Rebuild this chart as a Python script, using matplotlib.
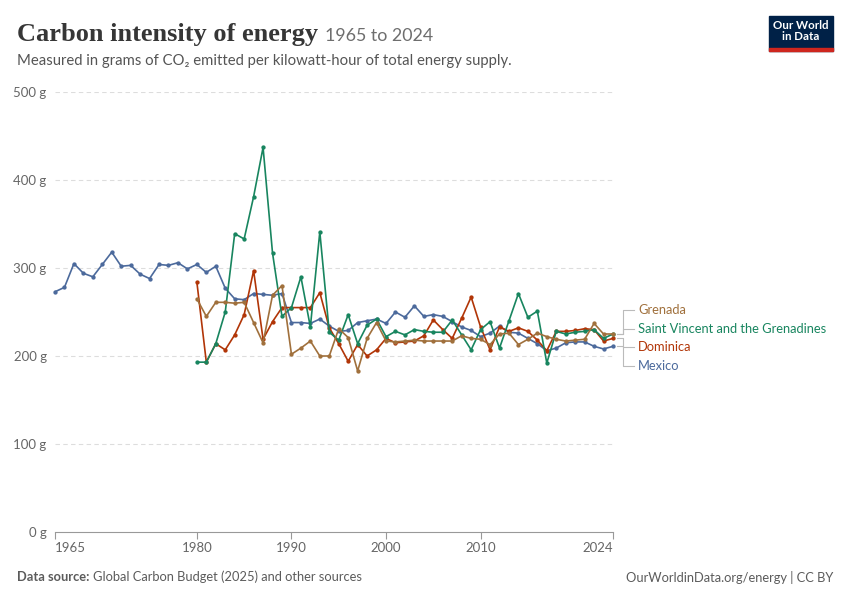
import matplotlib
matplotlib.use("Agg")
import matplotlib.pyplot as plt
from matplotlib.patches import Rectangle
import numpy as np

# datos (g CO2 / kWh)
years_mexico = list(range(1965, 2025))
mexico = [273, 278, 305, 294, 290, 304, 318, 302, 303, 293,
          288, 304, 303, 306, 299, 304, 295, 302, 277, 265,
          264, 271, 270, 269, 271, 238, 238, 237, 242, 234,
          228, 229, 238, 240, 242, 237, 250, 244, 257, 245,
          247, 245, 239, 233, 229, 222, 226, 234, 227, 226,
          220, 214, 206, 209, 215, 216, 216, 211, 208, 211]

years_islands = list(range(1980, 2025))
dominica = [284, 193, 214, 207, 224, 247, 297, 219, 239, 255,
            255, 255, 255, 272, 232, 214, 194, 213, 200, 207,
            220, 215, 216, 217, 223, 241, 230, 220, 243, 267,
            233, 207, 233, 228, 232, 228, 218, 206, 228, 228,
            229, 231, 230, 217, 220]
st_vincent = [193, 193, 214, 250, 339, 333, 381, 437, 317, 245,
              255, 290, 233, 341, 227, 218, 247, 214, 235, 242,
              222, 228, 224, 230, 228, 227, 227, 241, 224, 207,
              230, 239, 209, 240, 271, 244, 251, 192, 228, 225,
              227, 228, 230, 220, 225]
grenada = [265, 245, 261, 261, 260, 261, 238, 215, 269, 280,
           202, 209, 217, 200, 200, 231, 221, 183, 220, 238,
           217, 216, 217, 218, 217, 217, 217, 217, 223, 220,
           219, 213, 225, 226, 213, 219, 226, 222, 219, 217,
           218, 219, 237, 225, 225]

series = [
    ("Grenada", years_islands, grenada, "#a0703c"),
    ("Saint Vincent and the Grenadines", years_islands, st_vincent, "#18855f"),
    ("Dominica", years_islands, dominica, "#b13507"),
    ("Mexico", years_mexico, mexico, "#4c6a9c"),
]

y_ticks = [0, 100, 200, 300, 400, 500]
x_ticks = [1965, 1980, 1990, 2000, 2010, 2024]

W, H = 850, 600
plt.rcParams['font.family'] = ['Lato', 'DejaVu Sans']

fig = plt.figure(figsize=(W / 100, H / 100), dpi=100)
ax = fig.add_axes([55 / W, 1 - 532 / H, (613 - 55) / W, (532 - 92) / H])

for name, xs, ys, col in reversed(series):
    ax.plot(xs, ys, color=col, lw=1.2, marker="o", ms=2.1, clip_on=False, zorder=3)

ax.set_xlim(1965, 2024)
ax.set_ylim(0, 500)
ax.set_yticks(y_ticks)
ax.set_yticklabels([f"{v} g" for v in y_ticks])
ax.set_xticks(x_ticks)
ax.set_xticklabels([str(x) for x in x_ticks])
for lab in ax.get_xticklabels():
    lab.set_ha("center")
ax.get_xticklabels()[0].set_ha("left")
ax.get_xticklabels()[-1].set_ha("right")

for sp in ["top", "right", "left"]:
    ax.spines[sp].set_visible(False)
ax.spines["bottom"].set_color("#999999")
ax.spines["bottom"].set_linewidth(0.8)
ax.tick_params(axis="y", length=0, pad=6, labelsize=9.5, labelcolor="#666666")
ax.tick_params(axis="x", length=5, width=0.8, color="#999999", pad=2,
               labelsize=9.5, labelcolor="#666666")
for v in y_ticks[1:]:
    ax.axhline(v, color="#dddddd", lw=0.8, ls=(0, (4, 3)), zorder=1)

# capa en pixeles para textos, logo y conectores
ov = fig.add_axes([0, 0, 1, 1], zorder=5)
ov.set_xlim(0, W)
ov.set_ylim(H, 0)
ov.axis("off")
ov.patch.set_alpha(0)

fig.canvas.draw()
ends = []
for name, xs, ys, col in series:
    dx, dy = ax.transData.transform((xs[-1], ys[-1]))
    ends.append(H - dy)
gap = 18.5
mid = np.mean(ends)
label_y = [mid + (i - 1.5) * gap for i in range(len(series))]

for (name, xs, ys, col), ey, ly in zip(series, ends, label_y):
    ov.plot([617, 623, 623, 634], [ey, ey, ly, ly], color="#bbbbbb", lw=0.8)
    ov.text(638, ly, name, color=col, fontsize=9.3, va="center", ha="left")

# titulo y subtitulo
t = ov.text(17, 41, "Carbon intensity of energy", fontsize=19, fontweight="bold",
            family=["Liberation Serif", "DejaVu Serif"], color="#363636", va="baseline")
fig.canvas.draw()
bb = t.get_window_extent()
ov.text(bb.x1 + 7, 41, "1965 to 2024", fontsize=12.8, color="#6e6e6e", va="baseline")
ov.text(17, 61, "Measured in grams of CO\u2082 emitted per kilowatt-hour of total energy supply.",
        fontsize=10.7, color="#555555", va="center")

# logo
ov.add_patch(Rectangle((769, 16), 64, 35, color="#002147", zorder=6))
ov.add_patch(Rectangle((769, 48), 64, 3, color="#ce261e", zorder=7))
ov.text(801, 31, "Our World\nin Data", color="white", fontsize=8.3, fontweight="bold",
        ha="center", va="center", linespacing=1.05, zorder=8)

# pie
ds = ov.text(17, 577, "Data source:", fontsize=9.3, fontweight="bold", color="#5b5b5b",
             va="center")
fig.canvas.draw()
bx = ds.get_window_extent().x1
ov.text(bx + 4, 577, "Global Carbon Budget (2025) and other sources", fontsize=9.3,
        color="#5b5b5b", va="center")
ov.text(833, 577, "OurWorldinData.org/energy | CC BY", fontsize=9.3, color="#5b5b5b",
        va="center", ha="right")

fig.savefig("out.png", dpi=100)
